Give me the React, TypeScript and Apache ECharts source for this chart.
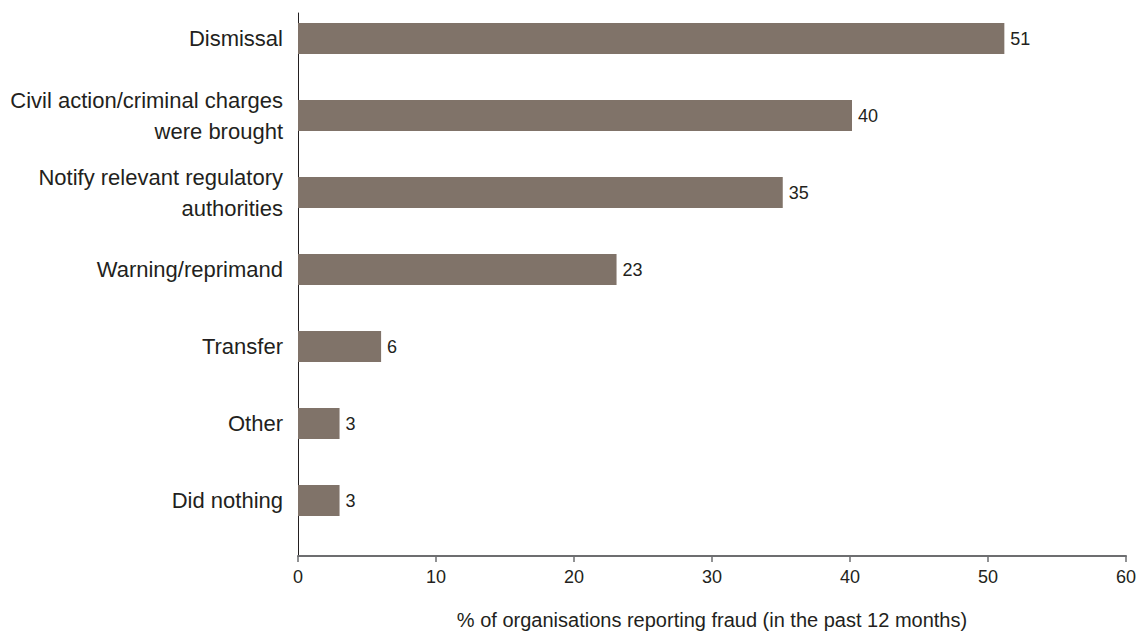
import React, { useEffect, useRef } from "react";
import * as echarts from "echarts";

const categories: string[] = [
  "Dismissal",
  "Civil action/criminal charges\nwere brought",
  "Notify relevant regulatory\nauthorities",
  "Warning/reprimand",
  "Transfer",
  "Other",
  "Did nothing",
];
const values: number[] = [51, 40, 35, 23, 6, 3, 3];
const xMin = 0;
const xMax = 60;
const xInterval = 10;
const xAxisTitle = "% of organisations reporting fraud (in the past 12 months)";

const FONT = "'Liberation Sans', Arial, Helvetica, sans-serif";
const TEXT = "#231f20";
const BAR = "#807369";
const AXIS_GREY = "#6d6e70";

export default function App() {
  const ref = useRef<HTMLDivElement>(null);
  useEffect(() => {
    if (!ref.current) return;
    const chart = echarts.init(ref.current, undefined, { renderer: "svg" });
    chart.setOption({
      animation: false,
      backgroundColor: "#ffffff",
      textStyle: { fontFamily: FONT },
      grid: [
        { left: 298, right: 10, top: -11, height: 550, containLabel: false },
        { left: 298, right: 10, top: 13, bottom: 74, containLabel: false },
      ],
      xAxis: [
        { gridIndex: 0, type: "value", min: xMin, max: xMax, interval: xInterval, show: false },
        {
          gridIndex: 1,
          type: "value",
          min: xMin,
          max: xMax,
          interval: xInterval,
          axisLine: { show: true, lineStyle: { color: AXIS_GREY, width: 2 } },
          axisTick: { show: true, length: 6, lineStyle: { color: AXIS_GREY, width: 1.5 } },
          axisLabel: { fontSize: 18, color: TEXT, margin: 12, fontFamily: FONT },
          splitLine: { show: false },
          name: xAxisTitle,
          nameLocation: "middle",
          nameGap: 54,
          nameTextStyle: { fontSize: 20, color: TEXT, fontFamily: FONT },
        },
      ],
      yAxis: [
        {
          gridIndex: 0,
          type: "category",
          inverse: true,
          data: categories,
          axisLine: { show: false },
          axisTick: { show: false },
          axisLabel: {
            fontSize: 22,
            color: TEXT,
            margin: 15,
            lineHeight: 31,
            align: "right",
            fontFamily: FONT,
          },
        },
        {
          gridIndex: 1,
          type: "value",
          min: 0,
          max: 1,
          axisLine: { show: true, lineStyle: { color: TEXT, width: 1 } },
          axisTick: { show: false },
          axisLabel: { show: false },
          splitLine: { show: false },
        },
      ],
      series: [
        {
          type: "bar",
          xAxisIndex: 0,
          yAxisIndex: 0,
          data: values,
          barWidth: 31,
          itemStyle: { color: BAR },
          label: {
            show: true,
            position: "right",
            distance: 6,
            fontSize: 18,
            color: TEXT,
            fontFamily: FONT,
          },
        },
      ],
    });
    return () => chart.dispose();
  }, []);
  return (
    <div
      ref={ref}
      style={{ position: "fixed", left: 0, top: 0, width: 1139, height: 635 }}
    />
  );
}
